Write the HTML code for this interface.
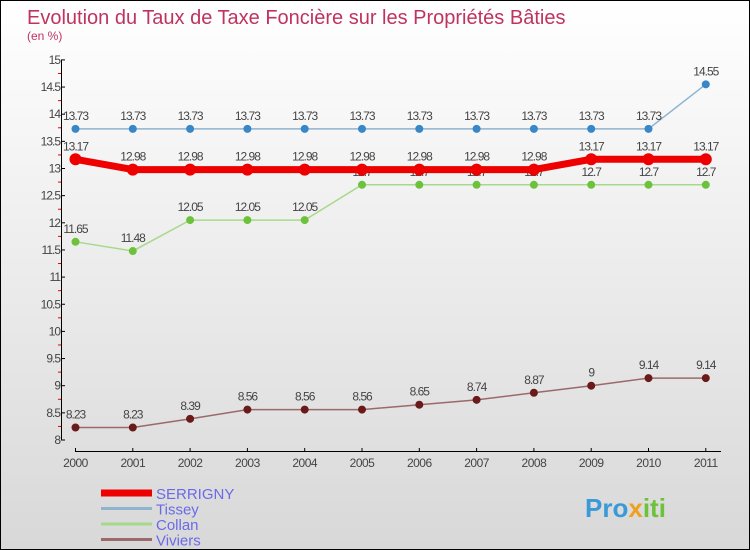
<!DOCTYPE html>
<html><head><meta charset="utf-8"><style>
body{margin:0}
#c{width:748px;height:548px;border:1px solid #000;background:linear-gradient(#fff,#d8d8d8);position:relative;overflow:hidden;font-family:"Liberation Sans",sans-serif}
</style></head><body>
<div id="c">
<svg id="s" width="748" height="548"></svg>
</div>
<script>
const years=["2000","2001","2002","2003","2004","2005","2006","2007","2008","2009","2010","2011"];
const serrigny=[13.17,12.98,12.98,12.98,12.98,12.98,12.98,12.98,12.98,13.17,13.17,13.17];
const tissey=[13.73,13.73,13.73,13.73,13.73,13.73,13.73,13.73,13.73,13.73,13.73,14.55];
const collan=[11.65,11.48,12.05,12.05,12.05,12.7,12.7,12.7,12.7,12.7,12.7,12.7];
const viviers=[8.23,8.23,8.39,8.56,8.56,8.56,8.65,8.74,8.87,9,9.14,9.14];
const yTicks=[8,8.5,9,9.5,10,10.5,11,11.5,12,12.5,13,13.5,14,14.5,15];
const NS="http://www.w3.org/2000/svg";
const svg=document.getElementById('s');
const X=i=>74.5+i*57.3;
const Y=v=>439-(v-8)*54.3;
function mk(t,a,txt,parent){const e=document.createElementNS(NS,t);for(const k in a)e.setAttribute(k,a[k]);if(txt!==undefined)e.textContent=txt;(parent||svg).appendChild(e);return e;}
let e;
e=mk('text',{x:26,y:23,'font-size':20,fill:'#c0335f'},'Evolution du Taux de Taxe Foncière sur les Propriétés Bâties');

e=mk('text',{x:26,y:39,'font-size':12,fill:'#c0335f'},'(en %)');

e=mk('line',{x1:60.5,y1:Y(15),x2:60.5,y2:Y(8),stroke:'#000'});

yTicks.forEach((v,i)=>{
 const l=mk('line',{x1:60,y1:Y(v),x2:64,y2:Y(v),stroke:'#000'});
 
 const t=mk('text',{x:59,y:Y(v)+4,'font-size':12,fill:'#444','text-anchor':'end','letter-spacing':'-1'},String(v));
 
 if(i<yTicks.length-1){const m=mk('line',{x1:57,y1:Y(v+0.25),x2:60,y2:Y(v+0.25),stroke:'#e00'});
 }
});
e=mk('line',{x1:74,y1:450.5,x2:720,y2:450.5,stroke:'#000'});

years.forEach((y,i)=>{
 const l=mk('line',{x1:X(i),y1:447,x2:X(i),y2:451,stroke:'#000'});
 
 const t=mk('text',{x:X(i),y:466,'font-size':12,fill:'#444','text-anchor':'middle','letter-spacing':'-0.5'},y);
 
});
function series(data,color,w,r,name,dark){
 const p=mk('polyline',{points:data.map((v,i)=>X(i)+','+Y(v)).join(' '),fill:'none',stroke:color,'stroke-width':w});
 
 data.forEach((v,i)=>{
  const c=mk('circle',{cx:X(i),cy:Y(v),r:r,fill:dark,stroke:dark});
  
  const t=mk('text',{x:X(i),y:Y(v)-9,'font-size':12,fill:'#444','text-anchor':'middle','letter-spacing':'-1'},String(v));
  
 });
}
series(tissey,'#8eb4d0',1.5,3.5,'tissey','#3a87c8');
series(collan,'#a6d98a',1.5,3.5,'collan','#6cc23a');
series(viviers,'#9a6a6a',1.5,3.5,'viviers','#6a1a1a');
series(serrigny,'#ee0000',7,5.5,'serrigny','#ee0000');
const leg=[['SERRIGNY','#ee0000',7],['Tissey','#8eb4d0',3],['Collan','#a6d98a',3],['Viviers','#9a6a6a',3]];
leg.forEach((l,i)=>{
 const y=492+i*15.5;
 const ln=mk('line',{x1:100,y1:y,x2:151,y2:y,stroke:l[1],'stroke-width':l[2]});
 
 const t=mk('text',{x:155,y:y+6,'font-size':15,fill:'#6a6ae8'},l[0]);
 
});
e=mk('text',{x:584,y:516,'font-size':26,'font-weight':'bold'});

mk('tspan',{fill:'#3a9ad8'},'Pro',e);
mk('tspan',{fill:'#f0a020'},'x',e);
mk('tspan',{fill:'#6cc23a'},'iti',e);
</script>
</body></html>
